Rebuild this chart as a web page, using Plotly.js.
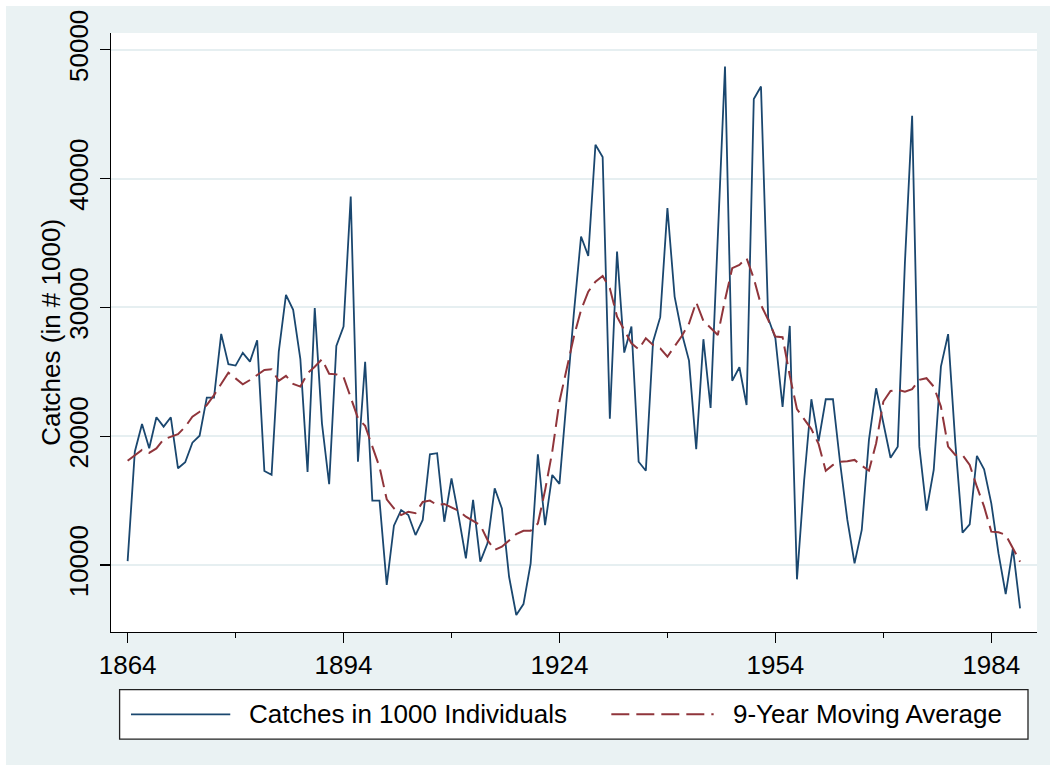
<!DOCTYPE html>
<html>
<head>
<meta charset="utf-8">
<script src="https://cdn.plot.ly/plotly-3.0.1.min.js"></script>
<style>
  html, body { margin: 0; padding: 0; background: #ffffff; width: 1056px; height: 771px; overflow: hidden; }
  #chart { position: absolute; left: 6px; top: 6px; width: 1044px; height: 759px; }
</style>
</head>
<body>
<div id="chart"></div>
<script>
const startYear = 1864;
const catches = [
  10300, 18800, 20950, 19060, 21470, 20740, 21470, 17510, 17980, 19500,
  20040, 22990, 22990, 27940, 25590, 25480, 26470, 25790, 27450, 17300,
  17010, 26570, 30970, 29810, 25980, 17220, 29940, 21000, 16270, 27010,
  28510, 38600, 18020, 25770, 15000, 15000, 8450, 13050, 14270, 13880,
  12330, 13500, 18600, 18680, 13360, 16730, 13750, 10520, 15050, 10260,
  11680, 15960, 14400, 9090, 6120, 6970, 10130, 18600, 13100, 16990,
  16300, 23150, 29540, 35500, 34000, 42620, 41670, 21360, 34330, 26490,
  28510, 18020, 17320, 27340, 29240, 37700, 30840, 27990, 25870, 19000,
  27530, 22200, 35400, 48700, 24300, 25350, 22420, 46170, 47150, 29160,
  27610, 22280, 28560, 8890, 16600, 22870, 19600, 22870, 22870, 17900,
  13500, 10130, 12720, 19710, 23720, 21000, 18330, 19190, 33500, 44870,
  19190, 14220, 17380, 25400, 27920, 19500, 12510, 13160, 18470, 17430,
  14790, 10900, 7750, 11300, 6640
];
const movingAvg = [
  18100, 18500, 18930, 18710, 19050, 19750, 19950, 20160, 20730, 21510,
  21900, 22420, 23190, 24100, 24930, 24490, 24030, 24360, 24750, 25140,
  25190, 24300, 24680, 24060, 23850, 24880, 25390, 25970, 24850, 24800,
  24600, 23000, 21400, 20800, 19200, 17600, 15100, 14400, 13880, 14140,
  14020, 14900, 15000, 14660, 14740, 14500, 14200, 13750, 13400, 13100,
  11940, 11170, 11420, 11940, 12400, 12660, 12660, 13220, 15800, 18800,
  22700, 25210, 27720, 29800, 31220, 32000, 32440, 31480, 29280, 28240,
  27210, 26740, 27600, 27080, 26820, 26170, 26950, 27780, 28750, 30400,
  28950, 28380, 27860, 30580, 33040, 33300, 33820, 32250, 30190, 29030,
  27730, 27690, 24700, 22100, 21300, 20550, 19400, 17320, 17770, 18020,
  18050, 18160, 17710, 17320, 19450, 22690, 23510, 23590, 23460, 23650,
  24370, 24500, 23850, 22300, 19190, 18540, 18540, 17770, 16080, 14530,
  12590, 12540, 12350, 11300, 10260
];
const years = catches.map((_, i) => startYear + i);
const xTicks = [1864, 1894, 1924, 1954, 1984];
const xMinorTicks = [1879, 1909, 1939, 1969];
const yTicks = [10000, 20000, 30000, 40000, 50000];
const seriesNames = ["Catches in 1000 Individuals", "9-Year Moving Average"];
const yTitle = "Catches (in # 1000)";

const blue = "#1a476f";
const red = "#90353b";
const font = "Liberation Sans, Arial, sans-serif";

const traces = [
  { x: years, y: catches, type: "scatter", mode: "lines", name: seriesNames[0],
    line: { color: blue, width: 1.8 }, showlegend: false, hoverinfo: "x+y" },
  { x: years, y: movingAvg, type: "scatter", mode: "lines", name: seriesNames[1],
    line: { color: red, width: 2, dash: "18px,7px" }, showlegend: false, hoverinfo: "x+y" }
];

// legend geometry in paper coordinates
const legY = -0.1375;
const layout = {
  width: 1044, height: 759,
  margin: { l: 104.7, r: 13.3, t: 27.3, b: 133.3 },
  paper_bgcolor: "#eaf2f3",
  plot_bgcolor: "#ffffff",
  font: { family: font, size: 26, color: "#000000" },
  showlegend: false,
  xaxis: {
    range: [1861.69, 1990.35],
    tickvals: xTicks, ticktext: xTicks.map(String),
    ticks: "outside", ticklen: 10, tickwidth: 1.2, tickcolor: "#000000",
    showline: true, linecolor: "#000000", linewidth: 1.2,
    showgrid: false, zeroline: false,
    tickfont: { family: font, size: 26, color: "#000000" },
    minor: { tickvals: xMinorTicks, ticks: "outside", ticklen: 5, tickwidth: 1.2, tickcolor: "#000000", showgrid: false }
  },
  yaxis: {
    range: [4802, 51297],
    tickvals: yTicks, ticktext: yTicks.map(String),
    tickangle: -90,
    ticks: "outside", ticklen: 10, tickwidth: 1.2, tickcolor: "#000000",
    showline: true, linecolor: "#000000", linewidth: 1.2,
    showgrid: true, gridcolor: "#e6eff1", gridwidth: 2,
    zeroline: false,
    ticklabelstandoff: 1,
    tickfont: { family: font, size: 26, color: "#000000" }
  },
  shapes: [
    { type: "rect", xref: "paper", yref: "paper", x0: 0.00929, x1: 0.99028, y0: -0.17881, y1: -0.09626,
      fillcolor: "#ffffff", line: { color: "#222222", width: 1.3 }, layer: "above" },
    { type: "line", xref: "paper", yref: "paper", x0: 0.0216, x1: 0.1288, y0: legY, y1: legY,
      line: { color: blue, width: 1.8 } },
    { type: "line", xref: "paper", yref: "paper", x0: 0.5403, x1: 0.6508, y0: legY, y1: legY,
      line: { color: red, width: 2, dash: "18px,7px" } }
  ],
  annotations: [
    { xref: "paper", yref: "paper", x: -0.0655, y: 0.5, xanchor: "center", yanchor: "middle",
      textangle: -90, text: yTitle, showarrow: false, font: { family: font, size: 26, color: "#000000" } },
    { xref: "paper", yref: "paper", x: 0.1469, y: legY, xanchor: "left", yanchor: "middle",
      text: seriesNames[0], showarrow: false, font: { family: font, size: 26, color: "#000000" } },
    { xref: "paper", yref: "paper", x: 0.6695, y: legY, xanchor: "left", yanchor: "middle",
      text: seriesNames[1], showarrow: false, font: { family: font, size: 26, color: "#000000" } }
  ]
};

Plotly.newPlot("chart", traces, layout, { displayModeBar: false, staticPlot: true });
</script>
</body>
</html>
